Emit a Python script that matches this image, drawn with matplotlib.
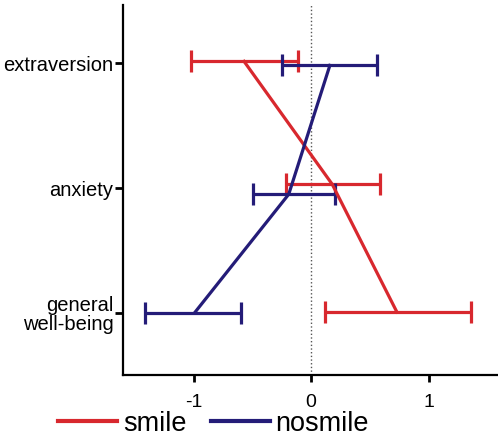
import numpy as np
import matplotlib.pyplot as plt

plt.rcParams['font.family'] = ['Liberation Sans', 'DejaVu Sans']

categories = ["extraversion", "anxiety", "general\nwell-being"]
cat_pos = np.array([3, 2, 1])

smile_mean = np.array([-0.57, 0.18, 0.73])
smile_lo = np.array([-1.02, -0.21, 0.12])
smile_hi = np.array([-0.11, 0.59, 1.36])

nosmile_mean = np.array([0.16, -0.19, -0.99])
nosmile_lo = np.array([-0.25, -0.49, -1.41])
nosmile_hi = np.array([0.56, 0.20, -0.60])

RED = '#d8282e'
BLUE = '#241c78'

fig = plt.figure(figsize=(4.98, 4.37), dpi=100)
ax = fig.add_axes([0.247, 0.142, 0.76, 0.847])

ax.axvline(0, color='#555555', linestyle=':', linewidth=1, zorder=0)

ax.errorbar(smile_mean, cat_pos + np.array([0.016, 0.03, 0.005]),
            xerr=[smile_mean - smile_lo, smile_hi - smile_mean],
            fmt='-', color=RED, lw=2.3, capsize=8, capthick=2.3, label='smile')
ax.errorbar(nosmile_mean, cat_pos - np.array([0.016, 0.05, 0.0]),
            xerr=[nosmile_mean - nosmile_lo, nosmile_hi - nosmile_mean],
            fmt='-', color=BLUE, lw=2.3, capsize=8, capthick=2.3, label='nosmile')

ax.set_xlim(-1.6, 1.62)
ax.set_ylim(0.5, 3.47)
ax.set_xticks([-1, 0, 1])
ax.set_xticklabels(['-1', '0', '1'], fontsize=14)
ax.set_yticks(cat_pos)
ax.set_yticklabels(categories, fontsize=14.5, linespacing=1.0)
ax.tick_params(axis='y', length=6, width=2, pad=1)
ax.tick_params(axis='x', length=5, width=2, pad=9)

for s in ['top', 'right']:
    ax.spines[s].set_visible(False)
for s in ['left', 'bottom']:
    ax.spines[s].set_linewidth(1.6)

handles = [plt.Line2D([], [], color=RED, lw=3),
           plt.Line2D([], [], color=BLUE, lw=3)]
fig.legend(handles, ['smile', 'nosmile'], loc='center left',
           bbox_to_anchor=(0.116, 0.03), ncol=2, frameon=False, fontsize=19.5,
           handlelength=2.2, handletextpad=0.2, columnspacing=0.9,
           borderpad=0, borderaxespad=0)

fig.savefig('out.png', dpi=100)
